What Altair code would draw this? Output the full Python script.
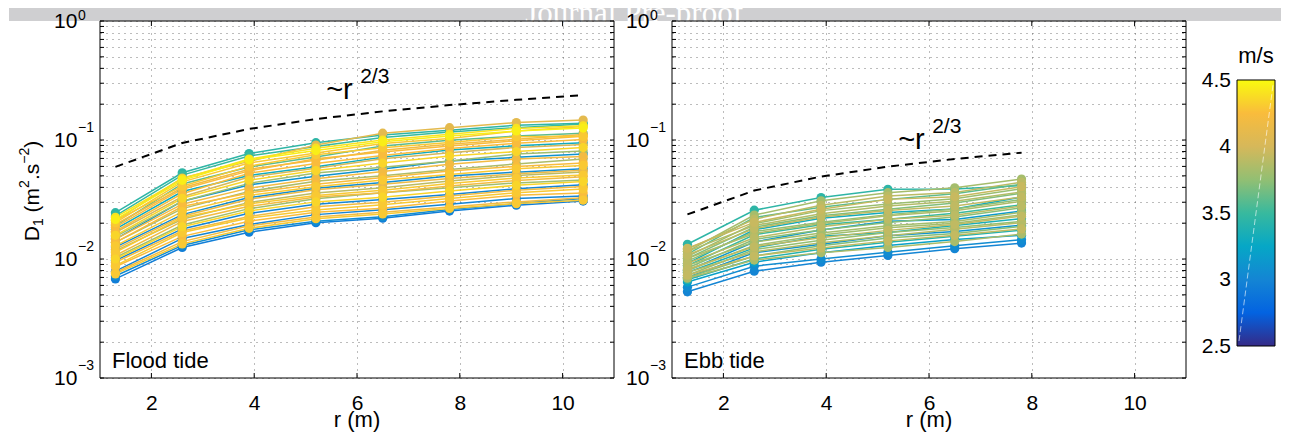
import altair as alt
import pandas as pd

# ---------------- data ----------------
R_FLOOD = [1.3, 2.6, 3.9, 5.2, 6.5, 7.8, 9.1, 10.4]
R_EBB = [1.3, 2.6, 3.9, 5.2, 6.5, 7.8]

FLOOD_SPEED = [3.45, 3.5, 4.45, 4.1, 4.3, 4.3, 3.6, 4.2, 4.25, 3.3, 4.25, 4.0,
               3.8, 4.35, 3.1, 4.2, 3.85, 4.25, 4.3, 3.05, 4.15, 3.9, 4.3, 4.2,
               3.8, 4.35, 3.0, 4.2, 4.3, 4.25, 3.0, 4.2, 4.3, 2.95, 3.05, 4.4]
FLOOD_D1 = [
    [0.0245, 0.053, 0.077, 0.095, 0.110, 0.121, 0.133, 0.138],
    [0.023, 0.0507, 0.0735, 0.088, 0.105, 0.117, 0.127, 0.136],
    [0.0215, 0.0458, 0.0681, 0.0815, 0.0966, 0.108, 0.119, 0.126],
    [0.021, 0.0479, 0.0661, 0.0907, 0.114, 0.127, 0.140, 0.147],
    [0.0202, 0.0445, 0.0641, 0.0777, 0.0935, 0.103, 0.119, 0.130],
    [0.021, 0.0409, 0.0603, 0.0753, 0.0861, 0.0951, 0.1066, 0.1074],
    [0.019, 0.0427, 0.0594, 0.0719, 0.089, 0.0997, 0.108, 0.114],
    [0.0195, 0.0397, 0.0568, 0.0675, 0.082, 0.092, 0.1016, 0.111],
    [0.0185, 0.0386, 0.055, 0.0697, 0.0794, 0.0891, 0.0984, 0.1074],
    [0.0178, 0.0369, 0.0503, 0.0597, 0.0718, 0.0823, 0.0895, 0.0948],
    [0.0171, 0.0354, 0.0526, 0.0635, 0.0742, 0.0849, 0.0939, 0.101],
    [0.0167, 0.0334, 0.0488, 0.0578, 0.0695, 0.0783, 0.0867, 0.0918],
    [0.0154, 0.0306, 0.0432, 0.0528, 0.059, 0.0667, 0.0762, 0.081],
    [0.0158, 0.0324, 0.0459, 0.0553, 0.064, 0.0734, 0.080, 0.0863],
    [0.0147, 0.0306, 0.0419, 0.0496, 0.0571, 0.0667, 0.0715, 0.0761],
    [0.0147, 0.0289, 0.0394, 0.0473, 0.0543, 0.0625, 0.0692, 0.0726],
    [0.0138, 0.0265, 0.037, 0.0451, 0.05, 0.0566, 0.063, 0.0693],
    [0.0138, 0.0276, 0.0359, 0.0424, 0.0484, 0.0548, 0.060, 0.0641],
    [0.0129, 0.025, 0.0343, 0.0405, 0.0461, 0.0514, 0.0572, 0.0611],
    [0.0126, 0.0236, 0.0328, 0.0393, 0.0439, 0.0498, 0.0537, 0.0574],
    [0.0121, 0.0229, 0.0318, 0.0381, 0.0425, 0.0474, 0.052, 0.0556],
    [0.0117, 0.0216, 0.0299, 0.0358, 0.0397, 0.0452, 0.0503, 0.0539],
    [0.01135, 0.0223, 0.029, 0.0342, 0.0378, 0.0431, 0.0479, 0.0507],
    [0.0107, 0.0207, 0.0277, 0.0332, 0.036, 0.041, 0.0457, 0.0491],
    [0.0103, 0.0193, 0.0265, 0.0321, 0.036, 0.0397, 0.0436, 0.0461],
    [0.01, 0.0187, 0.0253, 0.0302, 0.0331, 0.0372, 0.0416, 0.0447],
    [0.0097, 0.0179, 0.0242, 0.0289, 0.0316, 0.0349, 0.039, 0.042],
    [0.0094, 0.0172, 0.0228, 0.0275, 0.030, 0.0338, 0.0378, 0.0407],
    [0.0088, 0.0167, 0.0221, 0.0258, 0.0286, 0.0322, 0.036, 0.0388],
    [0.0086, 0.0155, 0.0208, 0.0247, 0.0267, 0.0307, 0.0343, 0.0359],
    [0.0079, 0.0149, 0.0195, 0.0236, 0.0259, 0.0288, 0.0322, 0.0338],
    [0.0077, 0.014, 0.019, 0.0225, 0.0247, 0.0274, 0.0302, 0.0327],
    [0.0075, 0.0134, 0.0181, 0.0218, 0.0239, 0.0266, 0.0292, 0.0312],
    [0.0068, 0.0125, 0.0168, 0.0202, 0.022, 0.0253, 0.0283, 0.0307],
    [0.0072, 0.013, 0.0176, 0.0208, 0.0227, 0.0261, 0.0292, 0.0322],
    [0.0224, 0.0472, 0.0692, 0.0854, 0.0998, 0.1117, 0.1252, 0.1316],
]

EBB_SPEED = [3.45, 3.82, 3.9, 3.6, 3.95, 3.78, 3.87, 3.7, 3.3, 3.92, 3.75, 3.85,
             3.5, 3.9, 3.72, 3.15, 3.82, 3.8, 3.92, 3.35, 3.76, 3.88, 3.1, 3.72,
             3.93, 3.4, 3.2, 3.84, 3.05, 3.0]
EBB_D1 = [
    [0.0133, 0.0257, 0.0328, 0.0385, 0.0388, 0.0415],
    [0.0116, 0.0234, 0.0308, 0.0361, 0.0397, 0.047],
    [0.0121, 0.0216, 0.0283, 0.0338, 0.0362, 0.0442],
    [0.011, 0.0223, 0.0272, 0.0317, 0.0353, 0.0425],
    [0.0123, 0.0203, 0.0262, 0.0317, 0.0333, 0.0405],
    [0.0105, 0.0198, 0.0255, 0.029, 0.0321, 0.039],
    [0.0116, 0.0191, 0.024, 0.0279, 0.0306, 0.0366],
    [0.0101, 0.0185, 0.0231, 0.0262, 0.0295, 0.0357],
    [0.0092, 0.0176, 0.022, 0.0246, 0.0263, 0.0332],
    [0.0108, 0.018, 0.0225, 0.0256, 0.0279, 0.0332],
    [0.0096, 0.017, 0.0204, 0.0236, 0.0263, 0.0316],
    [0.0101, 0.0164, 0.0199, 0.0231, 0.0254, 0.0305],
    [0.0088, 0.016, 0.0194, 0.0216, 0.0242, 0.0286],
    [0.0092, 0.0151, 0.0187, 0.0216, 0.0233, 0.0279],
    [0.0084, 0.0146, 0.0175, 0.0203, 0.0225, 0.0269],
    [0.008, 0.0139, 0.0175, 0.0208, 0.0215, 0.0253],
    [0.0088, 0.0139, 0.0165, 0.019, 0.0207, 0.0247],
    [0.008, 0.013, 0.0159, 0.0183, 0.02, 0.0235],
    [0.0082, 0.0127, 0.0151, 0.0174, 0.0195, 0.0229],
    [0.0077, 0.0124, 0.0155, 0.0167, 0.0191, 0.0218],
    [0.0073, 0.012, 0.0144, 0.0167, 0.0184, 0.0207],
    [0.0077, 0.0115, 0.0137, 0.0157, 0.0178, 0.0202],
    [0.007, 0.0113, 0.0133, 0.0157, 0.017, 0.0192],
    [0.007, 0.0106, 0.0129, 0.015, 0.0164, 0.0188],
    [0.0073, 0.0106, 0.0124, 0.0142, 0.0158, 0.0179],
    [0.0067, 0.01, 0.0121, 0.0138, 0.0155, 0.0175],
    [0.0064, 0.0094, 0.0113, 0.013, 0.0146, 0.0158],
    [0.0069, 0.0098, 0.0113, 0.0125, 0.014, 0.0162],
    [0.0058, 0.0087, 0.01, 0.0114, 0.0129, 0.0145],
    [0.0053, 0.0079, 0.0094, 0.0107, 0.0122, 0.0136],
]

SLOPE_FLOOD = [0.0595, 0.0944, 0.1238, 0.150, 0.174, 0.1965, 0.2177, 0.238]
SLOPE_EBB = [0.0237, 0.0376, 0.0493, 0.0597, 0.0693, 0.0783]

ANN_FLOOD = {"r": [5.4], "d": [0.2198]}
ANN_EBB = {"r": [5.4], "d": [0.0848]}

Y_LABEL_VALUES = [1, 0.1, 0.01, 0.001]
Y_LABEL_EXP = ["0", "\u22121", "\u22122", "\u22123"]
Y_GRID = [0.001, 0.002, 0.003, 0.004, 0.005, 0.006, 0.007, 0.008, 0.009,
          0.01, 0.02, 0.03, 0.04, 0.05, 0.06, 0.07, 0.08, 0.09,
          0.1, 0.2, 0.3, 0.4, 0.5, 0.6, 0.7, 0.8, 0.9, 1.0]
X_TICKS = [2, 4, 6, 8, 10]

CB_TICKS = [2.5, 3.0, 3.5, 4.0, 4.5]
CB_LABELS = ["2.5", "3", "3.5", "4", "4.5"]
CB_DOMAIN = [2.5, 2.75, 3.0, 3.25, 3.5, 3.75, 4.0, 4.25, 4.5]
PARULA = ["#352A87", "#0363E1", "#1485D4", "#06A7C6", "#38B99E",
          "#92BF73", "#D6B85A", "#F9BC3C", "#F9FB0E"]

FONT = "Liberation Sans"
W, H = 514, 357
BANNER = "#cfcfd1"
GRID_KW = dict(grid=True, gridDash=[1, 5], gridColor="#555555", gridWidth=0.8)


def lines_frame(rs, speeds, values):
    rows = []
    for i, (s, vals) in enumerate(zip(speeds, values)):
        for r, v in zip(rs, vals):
            rows.append({"line": i, "speed": s, "r": r, "d": v})
    df = pd.DataFrame(rows)
    return df.sort_values(["speed", "line", "r"], kind="stable").reset_index(drop=True)


ONE = pd.DataFrame({"k": [0]})

X = alt.X("r:Q", scale=alt.Scale(domain=[1, 11], nice=False, zero=False),
          axis=alt.Axis(values=X_TICKS, title=None, ticks=False, domain=False,
                        labelFontSize=21, labelPadding=14, labelFont=FONT,
                        labelColor="black", format="d", **GRID_KW))
Y = alt.Y("d:Q", scale=alt.Scale(type="log", domain=[0.001, 1], nice=False),
          axis=alt.Axis(values=Y_GRID, labels=False, ticks=False, domain=False,
                        title=None, **GRID_KW))
CSCALE = alt.Scale(domain=CB_DOMAIN, range=PARULA, interpolate="rgb")
C = alt.Color("speed:Q", scale=CSCALE, legend=None)


def txt(text, size, x, y, **kw):
    return alt.Chart(ONE).mark_text(text=text, fontSize=size, color="black", **kw).encode(
        x=alt.value(x), y=alt.value(y))


def panel(df, slope_rs, slope_vals, ann, tide, left):
    layers = []
    if left:
        layers.append(alt.Chart(ONE).mark_rect(color=BANNER).encode(
            x=alt.value(-91), x2=alt.value(1181), y=alt.value(-28), y2=alt.value(0)))
        layers.append(alt.Chart(ONE).mark_text(
            text="Journal Pre-proof", font="Liberation Serif", fontSize=31,
            color="white", align="right", baseline="alphabetic").encode(
            x=alt.value(643), y=alt.value(2)))
    slope = pd.DataFrame({"r": slope_rs, "d": slope_vals})
    layers.append(alt.Chart(slope).mark_line(color="black", strokeDash=[8, 6],
                                             strokeWidth=2).encode(x=X, y=Y))
    layers.append(alt.Chart(df).mark_line(strokeWidth=1.5).encode(
        x=X, y=Y, color=C, detail="line:N"))
    layers.append(alt.Chart(df).mark_circle(size=85, opacity=1).encode(
        x=X, y=Y, color=C))
    ann_df = pd.DataFrame(ann)
    layers.append(alt.Chart(ann_df).mark_text(
        text="~r", fontSize=29, align="left", baseline="alphabetic",
        color="black").encode(x=X, y=Y))
    layers.append(alt.Chart(ann_df).mark_text(
        text="2/3", fontSize=21, align="left", baseline="alphabetic",
        dx=34, dy=-16, color="black").encode(x=X, y=Y))
    layers.append(txt(tide, 22, 12, 347, align="left", baseline="alphabetic"))
    yg = pd.DataFrame({"d": Y_GRID})
    layers.append(alt.Chart(yg).mark_rule(color="black", strokeWidth=1).encode(
        y=Y, x=alt.value(0), x2=alt.value(4)))
    layers.append(alt.Chart(yg).mark_rule(color="black", strokeWidth=1).encode(
        y=Y, x=alt.value(W - 4), x2=alt.value(W)))
    xt = pd.DataFrame({"r": X_TICKS})
    layers.append(alt.Chart(xt).mark_rule(color="black", strokeWidth=1).encode(
        x=X, y=alt.value(H - 5), y2=alt.value(H)))
    layers.append(alt.Chart(xt).mark_rule(color="black", strokeWidth=1).encode(
        x=X, y=alt.value(0), y2=alt.value(5)))
    layers.append(alt.Chart(ONE).mark_rect(fillOpacity=0, stroke="black",
                                           strokeWidth=1).encode(
        x=alt.value(0), x2=alt.value(W), y=alt.value(0), y2=alt.value(H)))
    yl = pd.DataFrame({"d": Y_LABEL_VALUES, "exp": Y_LABEL_EXP})
    layers.append(alt.Chart(yl).mark_text(
        text="10", fontSize=21, align="left", baseline="middle", dy=1,
        color="black").encode(y=Y, x=alt.value(-46)))
    layers.append(alt.Chart(yl).transform_filter(alt.datum.d < 0.5).mark_text(
        fontSize=14, align="left", baseline="alphabetic", dy=-8,
        color="black").encode(y=Y, x=alt.value(-22), text="exp:N"))
    layers.append(alt.Chart(yl).transform_filter(alt.datum.d > 0.5).mark_text(
        fontSize=14, align="left", baseline="alphabetic", dy=-1,
        color="black").encode(y=Y, x=alt.value(-22), text="exp:N"))
    if left:
        rot = dict(angle=270, align="left", baseline="alphabetic")
        layers.append(txt("D", 21, -61, 220.2, **rot))
        layers.append(txt("1", 14, -57, 205.0, **rot))
        layers.append(txt("(m", 21, -61, 191.4, **rot))
        layers.append(txt("2", 14, -71, 166.9, **rot))
        layers.append(txt(".s", 21, -61, 159.1, **rot))
        layers.append(txt("\u22122", 14, -71, 142.8, **rot))
        layers.append(txt(")", 21, -61, 126.8, **rot))
    layers.append(txt("r (m)", 22, W / 2, 406, align="center", baseline="alphabetic"))
    return alt.layer(*layers).properties(width=W, height=H)


flood_df = lines_frame(R_FLOOD, FLOOD_SPEED, FLOOD_D1)
ebb_df = lines_frame(R_EBB, EBB_SPEED, EBB_D1)

left_panel = panel(flood_df, R_FLOOD, SLOPE_FLOOD, ANN_FLOOD, "Flood tide", True)
right_panel = panel(ebb_df, R_EBB, SLOPE_EBB, ANN_EBB, "Ebb tide", False)

# ---------------- colorbar ----------------
CB_Y = alt.Y("s:Q", scale=alt.Scale(domain=[2.2594, 4.9436], nice=False, zero=False),
             axis=None)
grad = alt.LinearGradient(
    gradient="linear",
    stops=[alt.GradientStop(color=c, offset=(v - CB_DOMAIN[0]) / (CB_DOMAIN[-1] - CB_DOMAIN[0]))
           for v, c in zip(CB_DOMAIN, PARULA)],
    x1=0, x2=0, y1=1, y2=0)
cb_bar = alt.Chart(pd.DataFrame({"s": [CB_TICKS[0]], "s2": [CB_TICKS[-1]]})).mark_rect(
    color=grad, stroke="black", strokeWidth=1).encode(
    y=CB_Y, y2="s2:Q", x=alt.value(-7), x2=alt.value(31))
cb_streak = alt.Chart(ONE).mark_rule(color="white", strokeWidth=1, opacity=0.6,
                                     strokeDash=[6, 3]).encode(
    x=alt.value(-5), x2=alt.value(29), y=alt.value(320), y2=alt.value(64))
cb_lab = alt.Chart(pd.DataFrame({"s": CB_TICKS, "lab": CB_LABELS})).mark_text(
    fontSize=21, align="right", baseline="middle", dy=1, color="black").encode(
    y=CB_Y, x=alt.value(-13), text="lab:N")
cb_title = txt("m/s", 22, 12, 35, align="center", baseline="middle")
colorbar = alt.layer(cb_bar, cb_streak, cb_lab, cb_title).properties(width=31, height=H)

chart = alt.hconcat(left_panel, right_panel, colorbar, spacing=58, bounds="flush").properties(
    padding={"left": 0, "top": -16, "right": 0, "bottom": 0}
).configure(font=FONT).configure_view(stroke="transparent")

chart.save("out.html", embed_options={"renderer": "svg", "actions": False})
